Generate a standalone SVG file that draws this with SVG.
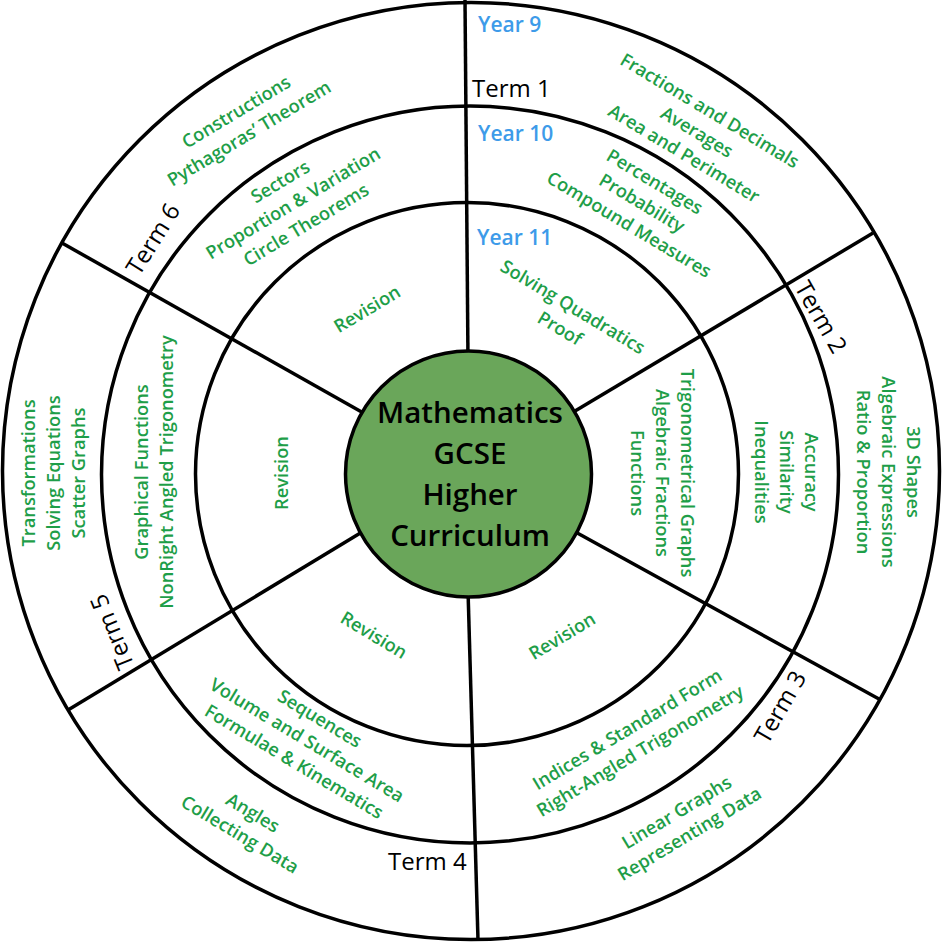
<svg xmlns="http://www.w3.org/2000/svg" width="943" height="943" viewBox="0 0 943 943">
<style>
.ring{fill:none;stroke:#000;stroke-width:3.5}
.spoke{stroke:#000;stroke-width:3.5;fill:none}
.g{font-family:"Open Sans","Noto Sans",sans-serif;font-weight:600;font-size:18.3px;fill:#1e9e48;text-anchor:middle}
.term{font-family:"Open Sans","Noto Sans",sans-serif;font-weight:400;font-size:24px;fill:#000}
.yr{font-family:"Open Sans","Noto Sans",sans-serif;font-weight:600;font-size:21px;fill:#3d9be9}
.ctr{font-family:"Open Sans","Noto Sans",sans-serif;font-weight:600;font-size:29.5px;fill:#000;text-anchor:middle}
</style>
<rect width="943" height="943" fill="#fff"/>
<g id="rings">
<circle class="ring" cx="471" cy="471" r="468.5"/>
<circle class="ring" cx="470" cy="474.5" r="368.5"/>
<circle class="ring" cx="467" cy="474" r="271.5"/>
</g>
<g id="connectors">
<line class="spoke" x1="465" y1="0" x2="468" y2="360"/>
<line class="spoke" x1="468" y1="590" x2="478" y2="940"/>
<line class="spoke" x1="570" y1="414" x2="873" y2="233"/>
<line class="spoke" x1="570" y1="529" x2="879" y2="699"/>
<line class="spoke" x1="62" y1="243" x2="367" y2="415"/>
<line class="spoke" x1="367" y1="529" x2="68" y2="710"/>
</g>
<g id="center">
<circle cx="468.5" cy="474" r="123" fill="#6aa65a" stroke="#000" stroke-width="3.5"/>
<text class="ctr" x="470" y="423">Mathematics</text>
<text class="ctr" x="470" y="464">GCSE</text>
<text class="ctr" x="470" y="505">Higher</text>
<text class="ctr" x="470" y="546">Curriculum</text>
</g>
<g id="years">
<text class="yr" x="478" y="32">Year 9</text>
<text class="yr" x="478" y="141">Year 10</text>
<text class="yr" x="477" y="245">Year 11</text>
</g>
<g id="terms">
<text class="term" x="472" y="97">Term 1</text>
<text class="term" text-anchor="middle" transform="translate(821,317) rotate(60)" y="8.5">Term 2</text>
<text class="term" text-anchor="middle" transform="translate(780,707) rotate(-60)" y="8.5">Term 3</text>
<text class="term" x="388" y="870">Term 4</text>
<text class="term" text-anchor="middle" transform="translate(112,632) rotate(-112)" y="8.5">Term 5</text>
<text class="term" text-anchor="middle" transform="translate(153,239) rotate(-58)" y="8.5">Term 6</text>
</g>
<g id="term1-y9" transform="translate(697,132) rotate(31)">
<text class="g" y="-18.5">Fractions and Decimals</text>
<text class="g" y="6.5">Averages</text>
<text class="g" y="31.5">Area and Perimeter</text>
</g>
<g id="term1-y10" transform="translate(642,203) rotate(31)">
<text class="g" y="-18.5">Percentages</text>
<text class="g" y="6.5">Probability</text>
<text class="g" y="31.5">Compound Measures</text>
</g>
<g id="term1-y11" transform="translate(566.5,317.5) rotate(31)">
<text class="g" y="-6">Solving Quadratics</text>
<text class="g" y="19">Proof</text>
</g>
<g id="term2-y9" transform="translate(888,472) rotate(90)">
<text class="g" y="-18.5">3D Shapes</text>
<text class="g" y="6.5">Algebraic Expressions</text>
<text class="g" y="31.5">Ratio &amp; Proportion</text>
</g>
<g id="term2-y10" transform="translate(786,472) rotate(90)">
<text class="g" y="-18.5">Accuracy</text>
<text class="g" y="6.5">Similarity</text>
<text class="g" y="31.5">Inequalities</text>
</g>
<g id="term2-y11" transform="translate(662,473) rotate(90)">
<text class="g" y="-18.5">Trigonometrical Graphs</text>
<text class="g" y="6.5">Algebraic Fractions</text>
<text class="g" y="31.5">Functions</text>
</g>
<g id="term3-y11" transform="translate(562,636) rotate(-31)">
<text class="g" y="6.5">Revision</text>
</g>
<g id="term3-y10" transform="translate(633.5,740) rotate(-31)">
<text class="g" y="-6">Indices &amp; Standard Form</text>
<text class="g" y="19">Right-Angled Trigonometry</text>
</g>
<g id="term3-y9" transform="translate(683,823) rotate(-31)">
<text class="g" y="-6">Linear Graphs</text>
<text class="g" y="19">Representing Data</text>
</g>
<g id="term4-y11" transform="translate(374,635) rotate(31)">
<text class="g" y="6.5">Revision</text>
</g>
<g id="term4-y10" transform="translate(307,740) rotate(31)">
<text class="g" y="-18.5">Sequences</text>
<text class="g" y="6.5">Volume and Surface Area</text>
<text class="g" y="31.5">Formulae &amp; Kinematics</text>
</g>
<g id="term4-y9" transform="translate(246.5,823.5) rotate(31)">
<text class="g" y="-6">Angles</text>
<text class="g" y="19">Collecting Data</text>
</g>
<g id="term5-y9" transform="translate(53,473) rotate(-90)">
<text class="g" y="-18.5">Transformations</text>
<text class="g" y="6.5">Solving Equations</text>
<text class="g" y="31.5">Scatter Graphs</text>
</g>
<g id="term5-y10" transform="translate(154,472) rotate(-90)">
<text class="g" y="-6">Graphical Functions</text>
<text class="g" y="19">NonRight Angled Trigonometry</text>
</g>
<g id="term5-y11" transform="translate(281,473) rotate(-90)">
<text class="g" y="6.5">Revision</text>
</g>
<g id="term6-y9" transform="translate(242.5,122.5) rotate(-31)">
<text class="g" y="-6">Constructions</text>
<text class="g" y="19">Pythagoras’ Theorem</text>
</g>
<g id="term6-y10" transform="translate(293,203) rotate(-31)">
<text class="g" y="-18.5">Sectors</text>
<text class="g" y="6.5">Proportion &amp; Variation</text>
<text class="g" y="31.5">Circle Theorems</text>
</g>
<g id="term6-y11" transform="translate(367,309) rotate(-31)">
<text class="g" y="6.5">Revision</text>
</g>
</svg>
